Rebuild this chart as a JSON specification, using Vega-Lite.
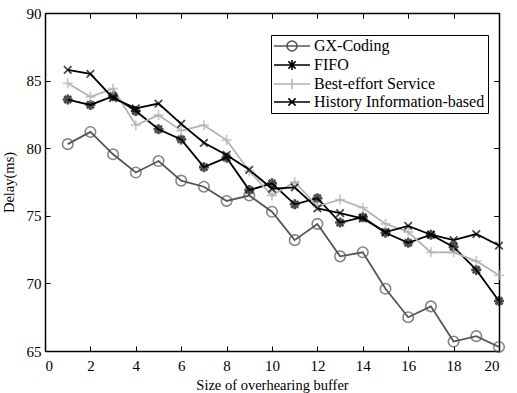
{
  "$schema": "https://vega.github.io/schema/vega-lite/v6.json",
  "width": 454,
  "height": 338,
  "autosize": {"type": "none"},
  "padding": {"left": 45, "top": 13, "right": 18, "bottom": 42},
  "background": "white",
  "config": {
    "view": {"stroke": null},
    "font": "Liberation Serif",
    "axis": {"grid": false, "domainColor": "black", "domainWidth": 1.5, "tickColor": "black", "labelFont": "Liberation Serif", "labelFontSize": 15, "labelColor": "black", "titleFont": "Liberation Serif", "titleFontSize": 14.5, "titleFontWeight": "normal", "titleColor": "black"}
  },
  "data": {"values": [
    {"x": 1, "series": "GX-Coding", "y": 80.3}, {"x": 2, "series": "GX-Coding", "y": 81.2}, {"x": 3, "series": "GX-Coding", "y": 79.55}, {"x": 4, "series": "GX-Coding", "y": 78.2}, {"x": 5, "series": "GX-Coding", "y": 79.05}, {"x": 6, "series": "GX-Coding", "y": 77.6}, {"x": 7, "series": "GX-Coding", "y": 77.15}, {"x": 8, "series": "GX-Coding", "y": 76.1}, {"x": 9, "series": "GX-Coding", "y": 76.5}, {"x": 10, "series": "GX-Coding", "y": 75.3}, {"x": 11, "series": "GX-Coding", "y": 73.2}, {"x": 12, "series": "GX-Coding", "y": 74.4}, {"x": 13, "series": "GX-Coding", "y": 72.0}, {"x": 14, "series": "GX-Coding", "y": 72.3}, {"x": 15, "series": "GX-Coding", "y": 69.6}, {"x": 16, "series": "GX-Coding", "y": 67.5}, {"x": 17, "series": "GX-Coding", "y": 68.3}, {"x": 18, "series": "GX-Coding", "y": 65.7}, {"x": 19, "series": "GX-Coding", "y": 66.1}, {"x": 20, "series": "GX-Coding", "y": 65.3},
    {"x": 1, "series": "FIFO", "y": 83.6}, {"x": 2, "series": "FIFO", "y": 83.2}, {"x": 3, "series": "FIFO", "y": 83.85}, {"x": 4, "series": "FIFO", "y": 82.75}, {"x": 5, "series": "FIFO", "y": 81.4}, {"x": 6, "series": "FIFO", "y": 80.65}, {"x": 7, "series": "FIFO", "y": 78.6}, {"x": 8, "series": "FIFO", "y": 79.3}, {"x": 9, "series": "FIFO", "y": 76.9}, {"x": 10, "series": "FIFO", "y": 77.4}, {"x": 11, "series": "FIFO", "y": 75.85}, {"x": 12, "series": "FIFO", "y": 76.3}, {"x": 13, "series": "FIFO", "y": 74.5}, {"x": 14, "series": "FIFO", "y": 74.9}, {"x": 15, "series": "FIFO", "y": 73.75}, {"x": 16, "series": "FIFO", "y": 73.0}, {"x": 17, "series": "FIFO", "y": 73.6}, {"x": 18, "series": "FIFO", "y": 72.7}, {"x": 19, "series": "FIFO", "y": 71.0}, {"x": 20, "series": "FIFO", "y": 68.7},
    {"x": 1, "series": "Best-effort Service", "y": 84.8}, {"x": 2, "series": "Best-effort Service", "y": 83.8}, {"x": 3, "series": "Best-effort Service", "y": 84.4}, {"x": 4, "series": "Best-effort Service", "y": 81.7}, {"x": 5, "series": "Best-effort Service", "y": 82.45}, {"x": 6, "series": "Best-effort Service", "y": 81.3}, {"x": 7, "series": "Best-effort Service", "y": 81.7}, {"x": 8, "series": "Best-effort Service", "y": 80.6}, {"x": 9, "series": "Best-effort Service", "y": 78.3}, {"x": 10, "series": "Best-effort Service", "y": 76.5}, {"x": 11, "series": "Best-effort Service", "y": 77.5}, {"x": 12, "series": "Best-effort Service", "y": 75.7}, {"x": 13, "series": "Best-effort Service", "y": 76.2}, {"x": 14, "series": "Best-effort Service", "y": 75.6}, {"x": 15, "series": "Best-effort Service", "y": 74.4}, {"x": 16, "series": "Best-effort Service", "y": 73.8}, {"x": 17, "series": "Best-effort Service", "y": 72.3}, {"x": 18, "series": "Best-effort Service", "y": 72.3}, {"x": 19, "series": "Best-effort Service", "y": 71.65}, {"x": 20, "series": "Best-effort Service", "y": 70.6},
    {"x": 1, "series": "History Information-based", "y": 85.8}, {"x": 2, "series": "History Information-based", "y": 85.5}, {"x": 3, "series": "History Information-based", "y": 83.7}, {"x": 4, "series": "History Information-based", "y": 82.95}, {"x": 5, "series": "History Information-based", "y": 83.3}, {"x": 6, "series": "History Information-based", "y": 81.8}, {"x": 7, "series": "History Information-based", "y": 80.4}, {"x": 8, "series": "History Information-based", "y": 79.5}, {"x": 9, "series": "History Information-based", "y": 78.4}, {"x": 10, "series": "History Information-based", "y": 77.0}, {"x": 11, "series": "History Information-based", "y": 77.1}, {"x": 12, "series": "History Information-based", "y": 75.55}, {"x": 13, "series": "History Information-based", "y": 75.2}, {"x": 14, "series": "History Information-based", "y": 74.8}, {"x": 15, "series": "History Information-based", "y": 73.8}, {"x": 16, "series": "History Information-based", "y": 74.25}, {"x": 17, "series": "History Information-based", "y": 73.6}, {"x": 18, "series": "History Information-based", "y": 73.2}, {"x": 19, "series": "History Information-based", "y": 73.65}, {"x": 20, "series": "History Information-based", "y": 72.8}
  ]},
  "resolve": {"axis": {"x": "independent", "y": "independent"}},
  "layer": [
    {
      "mark": {"type": "point", "filled": false, "opacity": 0, "size": 144},
      "encoding": {
        "x": {"field": "x", "type": "quantitative", "scale": {"domain": [0, 20], "nice": false, "zero": false},
              "axis": {"orient": "bottom", "values": [0, 2, 4, 6, 8, 10, 12, 14, 16, 18, 20], "ticks": false, "labelPadding": 7, "title": "Size of overhearing buffer", "titlePadding": 5,
                       "grid": true, "gridColor": "black", "gridWidth": 1, "gridOpacity": 1, "gridDash": [5, 328, 10, 0]}},
        "y": {"field": "y", "type": "quantitative", "scale": {"domain": [65, 90], "nice": false, "zero": false},
              "axis": {"orient": "left", "values": [65, 70, 75, 80, 85, 90], "ticks": false, "labelPadding": 4, "title": "Delay(ms)", "titlePadding": 10,
                       "grid": true, "gridColor": "black", "gridWidth": 1, "gridOpacity": 1, "gridDash": [5, 444, 10, 0]}},
        "color": {"field": "series", "type": "nominal",
                  "scale": {"domain": ["GX-Coding", "FIFO", "Best-effort Service", "History Information-based"], "range": ["#555555", "#000000", "#b3b3b3", "#000000"]},
                  "legend": {"orient": "none", "legendX": 226, "legendY": 22, "title": null, "fillColor": "white", "strokeColor": "black",
                             "padding": 3, "symbolSize": 144, "symbolOffset": 10, "labelOffset": 14, "rowPadding": 1,
                             "labelFont": "Liberation Serif", "labelFontSize": 16, "labelColor": "black", "labelLimit": 300,
                             "symbolStrokeWidth": 1.6, "symbolFillColor": "transparent", "symbolOpacity": 1}},
        "shape": {"field": "series", "type": "nominal",
                  "scale": {"domain": ["GX-Coding", "FIFO", "Best-effort Service", "History Information-based"],
                            "range": ["M-3,0L3,0M0.83,0A0.83,0.83 0 1,1 -0.83,0A0.83,0.83 0 1,1 0.83,0", "M-3,0L3,0M0,-0.83L0,0.83M-0.6,-0.6L0.6,0.6M-0.6,0.6L0.6,-0.6", "M-3,0L3,0M0,-0.83L0,0.83", "M-3,0L3,0M-0.6,-0.6L0.6,0.6M-0.6,0.6L0.6,-0.6"]},
                  "legend": {"orient": "none", "legendX": 226, "legendY": 22, "title": null, "fillColor": "white", "strokeColor": "black",
                             "padding": 3, "symbolSize": 144, "symbolOffset": 10, "labelOffset": 14, "rowPadding": 1,
                             "labelFont": "Liberation Serif", "labelFontSize": 16, "labelColor": "black", "labelLimit": 300,
                             "symbolStrokeWidth": 1.6, "symbolFillColor": "transparent", "symbolOpacity": 1}}
      }
    },
    {
      "mark": {"type": "line", "strokeWidth": 1.8},
      "encoding": {
        "x": {"field": "x", "type": "quantitative", "axis": {"orient": "top", "values": [0, 2, 4, 6, 8, 10, 12, 14, 16, 18, 20], "ticks": true, "tickSize": -5, "tickWidth": 1, "labels": false, "title": null}},
        "y": {"field": "y", "type": "quantitative", "axis": {"orient": "right", "values": [65, 70, 75, 80, 85, 90], "ticks": true, "tickSize": -5, "tickWidth": 1, "labels": false, "title": null}},
        "color": {"field": "series", "type": "nominal"},
        "detail": {"field": "series"}
      }
    },
    {
      "transform": [{"filter": "datum.series === 'GX-Coding'"}],
      "mark": {"type": "point", "filled": false, "shape": "circle", "size": 110, "strokeWidth": 1.6},
      "encoding": {
        "x": {"field": "x", "type": "quantitative", "axis": null},
        "y": {"field": "y", "type": "quantitative", "axis": null},
        "color": {"field": "series", "type": "nominal"}
      }
    },
    {
      "transform": [{"filter": "datum.series === 'FIFO'"}],
      "mark": {"type": "point", "filled": false, "shape": "M-1,0L1,0M0,-1L0,1M-0.7,-0.7L0.7,0.7M-0.7,0.7L0.7,-0.7", "size": 100, "strokeWidth": 2.6},
      "encoding": {
        "x": {"field": "x", "type": "quantitative", "axis": null},
        "y": {"field": "y", "type": "quantitative", "axis": null},
        "color": {"field": "series", "type": "nominal"}
      }
    },
    {
      "transform": [{"filter": "datum.series === 'Best-effort Service'"}],
      "mark": {"type": "point", "filled": false, "shape": "M-1,0L1,0M0,-1L0,1", "size": 100, "strokeWidth": 1.8},
      "encoding": {
        "x": {"field": "x", "type": "quantitative", "axis": null},
        "y": {"field": "y", "type": "quantitative", "axis": null},
        "color": {"field": "series", "type": "nominal"}
      }
    },
    {
      "transform": [{"filter": "datum.series === 'History Information-based'"}],
      "mark": {"type": "point", "filled": false, "shape": "M-0.75,-0.75L0.75,0.75M-0.75,0.75L0.75,-0.75", "size": 100, "strokeWidth": 1.8},
      "encoding": {
        "x": {"field": "x", "type": "quantitative", "axis": null},
        "y": {"field": "y", "type": "quantitative", "axis": null},
        "color": {"field": "series", "type": "nominal"}
      }
    }
  ]
}
